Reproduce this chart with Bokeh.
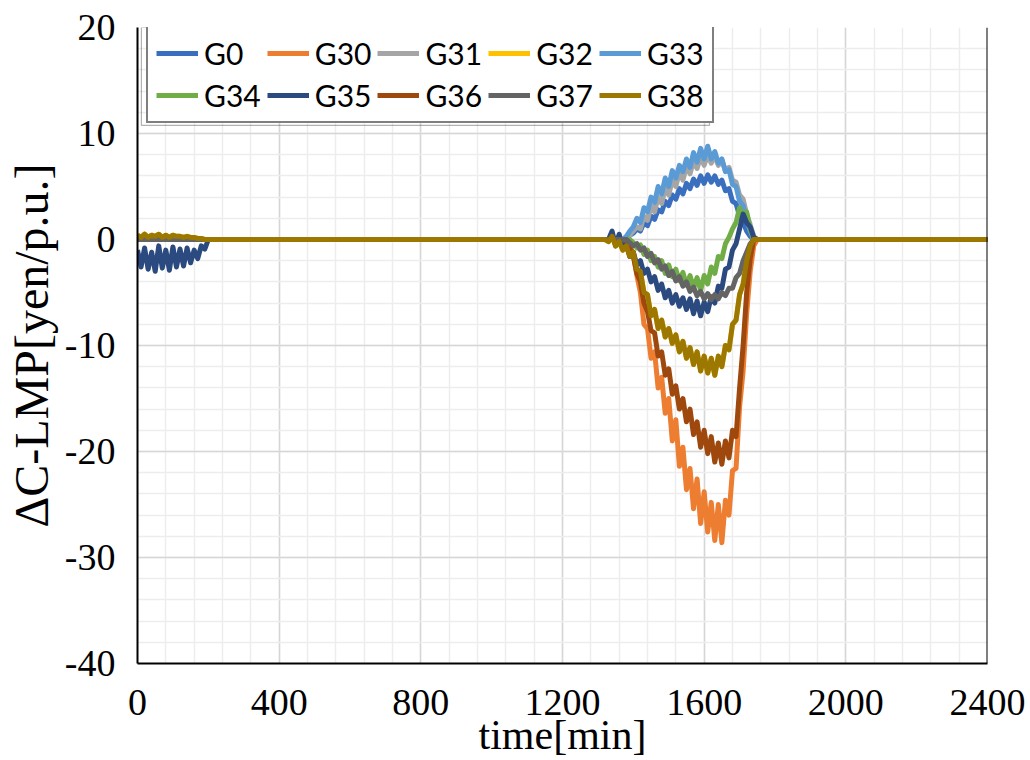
from bokeh.plotting import figure
from bokeh.models import (Legend, LegendItem, SingleIntervalTicker, Span, BoxAnnotation,
                          CustomJSTickFormatter)
from bokeh.embed import file_html
from bokeh.resources import INLINE

# ---- time axis (minutes) ----
t_early = list(range(0, 201, 10))          # 0 .. 200
t_mid = list(range(1320, 1761, 10))        # 1320 .. 1760
t_end = [2400]

series_names = ["G0", "G30", "G31", "G32", "G33", "G34", "G35", "G36", "G37", "G38"]
series_colors = ["#3A6FBF", "#ED7D31", "#A5A5A5", "#FFC000", "#5B9BD5",
                 "#70AD47", "#2B4A80", "#9E480E", "#646464", "#9C7800"]

# ---- early window values (t = 0..200) ----
zero_early = [0, 0, 0, 0, 0, 0, 0, 0, 0, 0, 0, 0, 0, 0, 0, 0, 0, 0, 0, 0, 0]
g35_early = [-1.0, -2.6, -0.8, -2.8, -1.2, -3.0, -0.6, -2.7, -1.0, -2.9, -0.7,
             -2.6, -0.9, -2.5, -0.8, -2.2, -1.0, -1.8, -0.6, -0.9, 0.0]
g38_early = [0.4, 0.2, 0.5, 0.2, 0.4, 0.3, 0.5, 0.2, 0.4, 0.2, 0.4,
             0.3, 0.3, 0.2, 0.3, 0.2, 0.2, 0.1, 0.1, 0.0, 0.0]

# ---- event window values (t = 1320..1760) ----
g0_mid = [0, 0, 0, 0, 0, 0, 0,
          0.4, 0.6, 1.0, 0.8, 1.6, 1.3, 2.2, 1.9, 2.8, 2.6, 3.6, 3.2, 4.2, 3.8, 4.8, 4.3,
          5.3, 4.8, 5.7, 5.1, 6.0, 5.3, 6.1, 5.4, 6.0, 5.2, 5.6, 4.6, 4.8, 3.6, 3.4, 2.2,
          1.6, 0.8, 0.3,
          0, 0, 0]
g30_mid = [0, 0, 0, 0, 0, 0, 0,
           -0.6, -1.4, -3.4, -5.0, -8.0, -8.4, -11.2, -10.6, -14.0, -13.0,
           -16.4, -15.0, -19.0, -17.0, -21.4, -19.6, -23.6, -21.6, -25.4, -22.6,
           -26.8, -23.8, -27.6, -24.8, -28.4, -25.0, -28.6, -24.6, -26.0, -21.8,
           -21.6, -15.8, -12.4, -7.0, -3.0, -0.6,
           0, 0]
g31_mid = [0, 0, 0, 0, 0, 0, 0,
           0.4, 0.8, 1.2, 1.0, 2.2, 1.8, 3.2, 2.6, 4.0, 3.4, 4.8, 4.2, 5.6, 5.0, 6.3, 5.6,
           6.9, 6.2, 7.4, 6.7, 7.8, 7.0, 8.0, 7.2, 7.9, 7.0, 7.5, 6.5, 6.8, 5.6, 5.4, 4.2,
           3.8, 2.4, 1.4, 0.3,
           0, 0]
g33_mid = [0, 0, 0, 0, 0, 0,
           0.3, 0.8, 1.2, 2.0, 1.6, 3.0, 2.6, 4.0, 3.5, 5.0, 4.3, 5.8, 5.0, 6.5, 5.8, 7.0,
           6.4, 7.6, 6.8, 8.2, 7.3, 8.6, 7.6, 8.8, 7.6, 8.3, 7.2, 7.6, 6.4, 6.6, 5.2, 5.0,
           3.6, 3.2, 1.8, 0.8,
           0, 0, 0]
g34_mid = [0, 0, 0, 0, 0, 0, 0, 0,
           -0.3, -0.8, -0.5, -1.4, -1.0, -2.0, -1.6, -2.6, -2.0, -3.2, -2.4, -3.5, -2.8,
           -3.9, -3.1, -4.3, -3.4, -4.6, -3.6, -4.8, -3.4, -4.2, -2.6, -3.2, -1.6, -1.8,
           -0.4, 0.2, 1.0, 1.6, 3.0, 2.2, 2.6, 1.0,
           0, 0, 0]
g35_mid = [0, 0,
           0.8, -0.6, 0.5, -0.8, -0.4, -1.6, -1.2, -2.4, -2.0, -3.2, -2.8, -4.0, -3.5,
           -4.8, -4.2, -5.5, -4.8, -6.0, -5.2, -6.3, -5.5, -6.6, -5.6, -7.0, -5.8, -7.2,
           -5.9, -6.8, -5.4, -6.0, -4.4, -4.6, -2.8, -2.6, -1.0, -0.4, 1.0, 2.4, 1.6, 1.2,
           0.2,
           0, 0]
g36_mid = [0, 0, 0, 0, 0, 0, 0,
           -0.8, -1.6, -3.2, -4.0, -6.0, -6.8, -8.6, -8.8, -11.0, -10.6, -12.8, -12.2,
           -14.6, -13.8, -16.0, -15.0, -17.2, -16.0, -18.4, -17.2, -19.6, -18.0, -20.2,
           -18.6, -21.0, -19.2, -21.2, -19.0, -20.6, -18.0, -18.6, -14.0, -10.0, -5.0, -1.8,
           0, 0, 0]
g37_mid = [0, 0, 0, 0, 0, 0, 0,
           -0.3, -0.6, -0.4, -1.0, -0.8, -1.6, -1.3, -2.2, -1.9, -2.8, -2.5, -3.4, -3.0,
           -3.9, -3.5, -4.4, -4.0, -4.9, -4.5, -5.3, -4.9, -5.6, -5.1, -5.7, -5.2, -5.6,
           -5.0, -5.3, -4.6, -4.6, -3.6, -3.2, -2.0, -1.2, -0.4,
           0, 0, 0]
g38_mid = [0, -0.2, 0.3, -0.6, -0.2, -1.0, -0.6, -1.6, -1.2, -2.8, -3.0, -5.0, -5.2,
           -7.2, -6.6, -8.4, -7.6, -9.2, -8.4, -9.8, -9.0, -10.6, -9.6, -11.2, -10.2,
           -11.8, -10.6, -12.4, -11.0, -12.6, -11.2, -12.8, -11.0, -12.0, -10.0, -10.4,
           -8.0, -7.6, -5.2, -4.2, -2.0, -0.6,
           0, 0, 0]
g32_mid = list(g38_mid)   # hidden underneath G38 in the original
g32_early = list(g38_early)

end_val = [0]

early_vals = {"G0": zero_early, "G30": zero_early, "G31": zero_early, "G32": g32_early,
              "G33": zero_early, "G34": zero_early, "G35": g35_early, "G36": zero_early,
              "G37": zero_early, "G38": g38_early}
mid_vals = {"G0": g0_mid, "G30": g30_mid, "G31": g31_mid, "G32": g32_mid, "G33": g33_mid,
            "G34": g34_mid, "G35": g35_mid, "G36": g36_mid, "G37": g37_mid, "G38": g38_mid}

for k in series_names:
    if len(mid_vals[k]) != len(t_mid) or len(early_vals[k]) != len(t_early):
        raise ValueError(k + " length mismatch %d %d" % (len(mid_vals[k]), len(early_vals[k])))

SERIF = "Liberation Serif"

p = figure(width=1030, height=760, x_range=(0, 2400), y_range=(-40, 20),
           output_backend="svg", toolbar_location=None,
           min_border_left=137, min_border_right=43, min_border_top=27, min_border_bottom=97)
p.outline_line_color = None
p.background_fill_color = "white"
p.border_fill_color = "white"

# grids
p.xaxis.ticker = SingleIntervalTicker(interval=400, num_minor_ticks=5)
p.yaxis.ticker = SingleIntervalTicker(interval=10, num_minor_ticks=5)
for g in (p.xgrid[0], p.ygrid[0]):
    g.grid_line_color = "#D6D6D6"
    g.grid_line_width = 1.5
    g.minor_grid_line_color = "#EDEDED"
    g.minor_grid_line_width = 1.5

fmt = CustomJSTickFormatter(code="return tick.toFixed(0);")

# axes
for ax in (p.xaxis[0], p.yaxis[0]):
    ax.formatter = fmt
    ax.axis_line_color = "black"
    ax.axis_line_width = 2
    ax.major_tick_line_color = None
    ax.minor_tick_line_color = None
    ax.major_label_text_font = SERIF
    ax.major_label_text_font_size = "38px"
    ax.major_label_text_color = "black"
    ax.axis_label_text_font = SERIF
    ax.axis_label_text_font_style = "normal"
    ax.axis_label_text_color = "black"

p.xaxis.axis_label = "time[min]"
p.xaxis.axis_label_text_font_size = "42px"
p.xaxis.major_label_standoff = 20
p.xaxis.axis_label_standoff = -6
p.yaxis.axis_label = "\u0394C-LMP[yen/p.u.]"
p.yaxis.axis_label_text_font_size = "48px"
p.yaxis.major_label_standoff = 16
p.yaxis.axis_label_standoff = 4

p.add_layout(Span(location=2400, dimension="height", line_color="black", line_width=2))

renderers = {}
for name, color in zip(series_names, series_colors):
    xs = t_early + t_mid + t_end
    ys = early_vals[name] + mid_vals[name] + end_val
    r = p.line(xs, ys, line_color=color, line_width=5, line_join="round")
    renderers[name] = r

# outer thin frame of the legend
p.add_layout(BoxAnnotation(left=11, right=1615, top=20, bottom=10.76,
                           fill_color=None, line_color="black", line_width=1.2))

# legend fills column by column -> order items so rows read G0..G33 / G34..G38
legend_order = ["G0", "G34", "G30", "G35", "G31", "G36", "G32", "G37", "G33", "G38"]
legend = Legend(items=[LegendItem(label=n, renderers=[renderers[n]]) for n in legend_order],
                ncols=5, location=(9, 540))
legend.label_text_font = "Lato"
legend.label_text_font_size = "30px"
legend.label_text_color = "black"
legend.glyph_width = 42
legend.glyph_height = 34
legend.label_height = 34
legend.label_standoff = 6
legend.spacing = 6
legend.padding = 8
legend.margin = 0
legend.border_line_color = "black"
legend.border_line_width = 2.5
legend.background_fill_color = "white"
legend.background_fill_alpha = 1.0
p.add_layout(legend)

open("out.html", "w").write(file_html(p, INLINE))
